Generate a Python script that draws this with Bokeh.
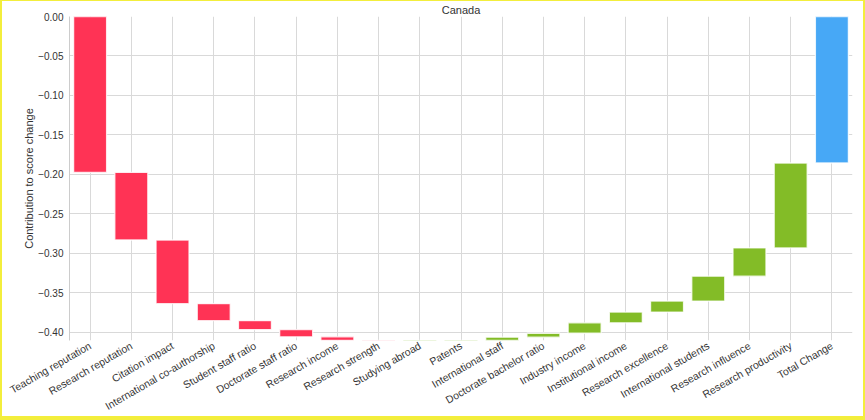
import numpy as np
from bokeh.plotting import figure
from bokeh.models import ColumnDataSource, FactorRange, Range1d, FixedTicker, CustomJSTickFormatter
from bokeh.embed import file_html
from bokeh.resources import INLINE
import math

categories = ["Teaching reputation", "Research reputation", "Citation impact",
              "International co-authorship", "Student staff ratio", "Doctorate staff ratio",
              "Research income", "Research strength", "Studying abroad", "Patents",
              "International staff", "Doctorate bachelor ratio", "Industry income",
              "Institutional income", "Research excellence", "International students",
              "Research influence", "Research productivity"]
deltas = [-0.1975, -0.0857, -0.0807, -0.0215, -0.0113, -0.0092, -0.0044, -0.0008,
          0.0, 0.0, 0.0048, 0.0050, 0.0132, 0.0136, 0.0139, 0.0316, 0.0358, 0.1076]
total_label = "Total Change"
y_ticks = [0.0, -0.05, -0.10, -0.15, -0.20, -0.25, -0.30, -0.35, -0.40]

RED = "#ff3355"
GREEN = "#83bc27"
BLUE = "#47a8f6"
FRAME = "#f3ee3c"

cum = np.cumsum(deltas)
starts = np.concatenate([[0.0], cum[:-1]])
total = float(cum[-1])

xs = categories + [total_label]
tops = [max(s, e) for s, e in zip(starts, cum)] + [max(0.0, total)]
bottoms = [min(s, e) for s, e in zip(starts, cum)] + [min(0.0, total)]
colors = [RED if d < 0 else GREEN for d in deltas] + [BLUE]

src = ColumnDataSource(dict(x=xs, top=tops, bottom=bottoms, color=colors))

FONT = "Liberation Sans"
TXT = "#333333"

p = figure(width=865, height=420, x_range=FactorRange(factors=xs),
           y_range=Range1d(float(min(cum.min(), 0)) + 0.0006, 0.0),
           output_backend="svg", toolbar_location=None, title="Canada",
           min_border_left=69, min_border_right=13, min_border_top=6, min_border_bottom=0)

p.vbar(x="x", top="top", bottom="bottom", width=0.8, fill_color="color",
       line_color="white", line_width=1.3, line_alpha=0.8, source=src)

p.title.align = "center"
p.title.text_font = FONT
p.title.text_font_size = "11px"
p.title.text_font_style = "normal"
p.title.text_color = TXT
p.title.standoff = 2

p.outline_line_color = None
p.background_fill_color = "white"
p.border_fill_alpha = 0

p.xgrid.grid_line_color = "#d9d9d9"
p.ygrid.grid_line_color = "#d9d9d9"
p.ygrid.ticker = FixedTicker(ticks=y_ticks)

p.yaxis.ticker = FixedTicker(ticks=y_ticks)
p.yaxis.formatter = CustomJSTickFormatter(code="return tick.toFixed(2).replace('-', '\u2212');")
p.yaxis.axis_label = "Contribution to score change"
p.yaxis.axis_label_text_font = FONT
p.yaxis.axis_label_text_font_size = "11px"
p.yaxis.axis_label_text_font_style = "normal"
p.yaxis.axis_label_text_color = TXT
p.yaxis.axis_label_standoff = 0
p.yaxis.major_label_text_font = FONT
p.yaxis.major_label_text_font_size = "10px"
p.yaxis.major_label_text_color = TXT
p.yaxis.major_tick_line_color = None
p.yaxis.major_tick_out = 0
p.yaxis.major_tick_in = 0
p.yaxis.minor_tick_line_color = None
p.yaxis.minor_tick_out = 0
p.yaxis.axis_line_color = "#cccccc"
p.yaxis.major_label_standoff = 6

p.xaxis.major_label_orientation = math.radians(30)
p.xaxis.major_label_text_font = FONT
p.xaxis.major_label_text_font_size = "10.5px"
p.xaxis.major_label_text_color = TXT
p.xaxis.major_tick_line_color = None
p.xaxis.major_tick_out = 0
p.xaxis.major_tick_in = 0
p.xaxis.axis_line_color = None
p.xaxis.major_label_standoff = 4

p.styles = {"background-color": "white",
            "box-shadow": f"inset 2px -4px 0 {FRAME}, inset -2px 1px 0 {FRAME}"}

open("out.html", "w").write(file_html(p, INLINE))
